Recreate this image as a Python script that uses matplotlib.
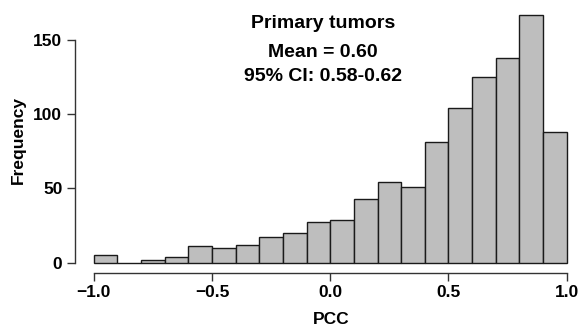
import numpy as np
import matplotlib.pyplot as plt

plt.rcParams["font.family"] = ["Liberation Sans", "DejaVu Sans"]
plt.rcParams["font.weight"] = "bold"

# PCC histogram, bins of width 0.1 from -1 to 1
bin_edges = np.round(np.arange(-1.0, 1.0001, 0.1), 2)
counts = [5, 0, 2, 4, 11, 10, 12, 17, 20, 27,
          29, 43, 54, 51, 81, 104, 125, 138, 167, 88]
x_ticks = [-1.0, -0.5, 0.0, 0.5, 1.0]
y_ticks = [0, 50, 100, 150]
title_lines = ["Primary tumors", "Mean = 0.60", "95% CI: 0.58-0.62"]

W, H = 581, 332
fig = plt.figure(figsize=(W / 100, H / 100), dpi=100)
left, right, top, bottom = 74.8, 581, 4.6, 272.5
ax = fig.add_axes([left / W, 1 - bottom / H, (right - left) / W, (bottom - top) / H])

ax.bar(bin_edges[:-1], counts, width=np.diff(bin_edges), align="edge",
       color="#bebebe", edgecolor="#1a1a1a", linewidth=1.0)

ax.set_xlim(-1.08, -1.0 + (right - 93.7) / 236.5)
ax.set_ylim(-6.68, 173.7)

for side in ["top", "right"]:
    ax.spines[side].set_visible(False)
for side in ["left", "bottom"]:
    ax.spines[side].set_color("#333333")
    ax.spines[side].set_linewidth(1.0)
ax.spines["left"].set_bounds(0, 150)
ax.spines["bottom"].set_bounds(-1.0, 1.0)

ax.set_xticks(x_ticks)
ax.set_xticklabels([f"{v:.1f}".replace("-", "\u2212") for v in x_ticks])
ax.set_yticks(y_ticks)
ax.set_yticklabels([str(v) for v in y_ticks])
ax.tick_params(axis="both", length=5.5, width=1.0, color="#333333",
               labelsize=12.5, pad=3.5)
for lab in ax.get_xticklabels() + ax.get_yticklabels():
    lab.set_fontweight("bold")

# titles and axis labels
title_x = 323 / W
for text, base in zip(title_lines, [27.7, 57.3, 81.0]):
    fig.text(title_x, 1 - base / H, text, ha="center", va="baseline",
             fontsize=14, fontweight="bold")
fig.text(331 / W, 1 - 324 / H, "PCC", ha="center", va="baseline",
         fontsize=12.5, fontweight="bold")
fig.text(18.3 / W, 1 - 140 / H, "Frequency", ha="center", va="center",
         rotation=90, fontsize=12.5, fontweight="bold")

fig.savefig("out.png", dpi=100)
